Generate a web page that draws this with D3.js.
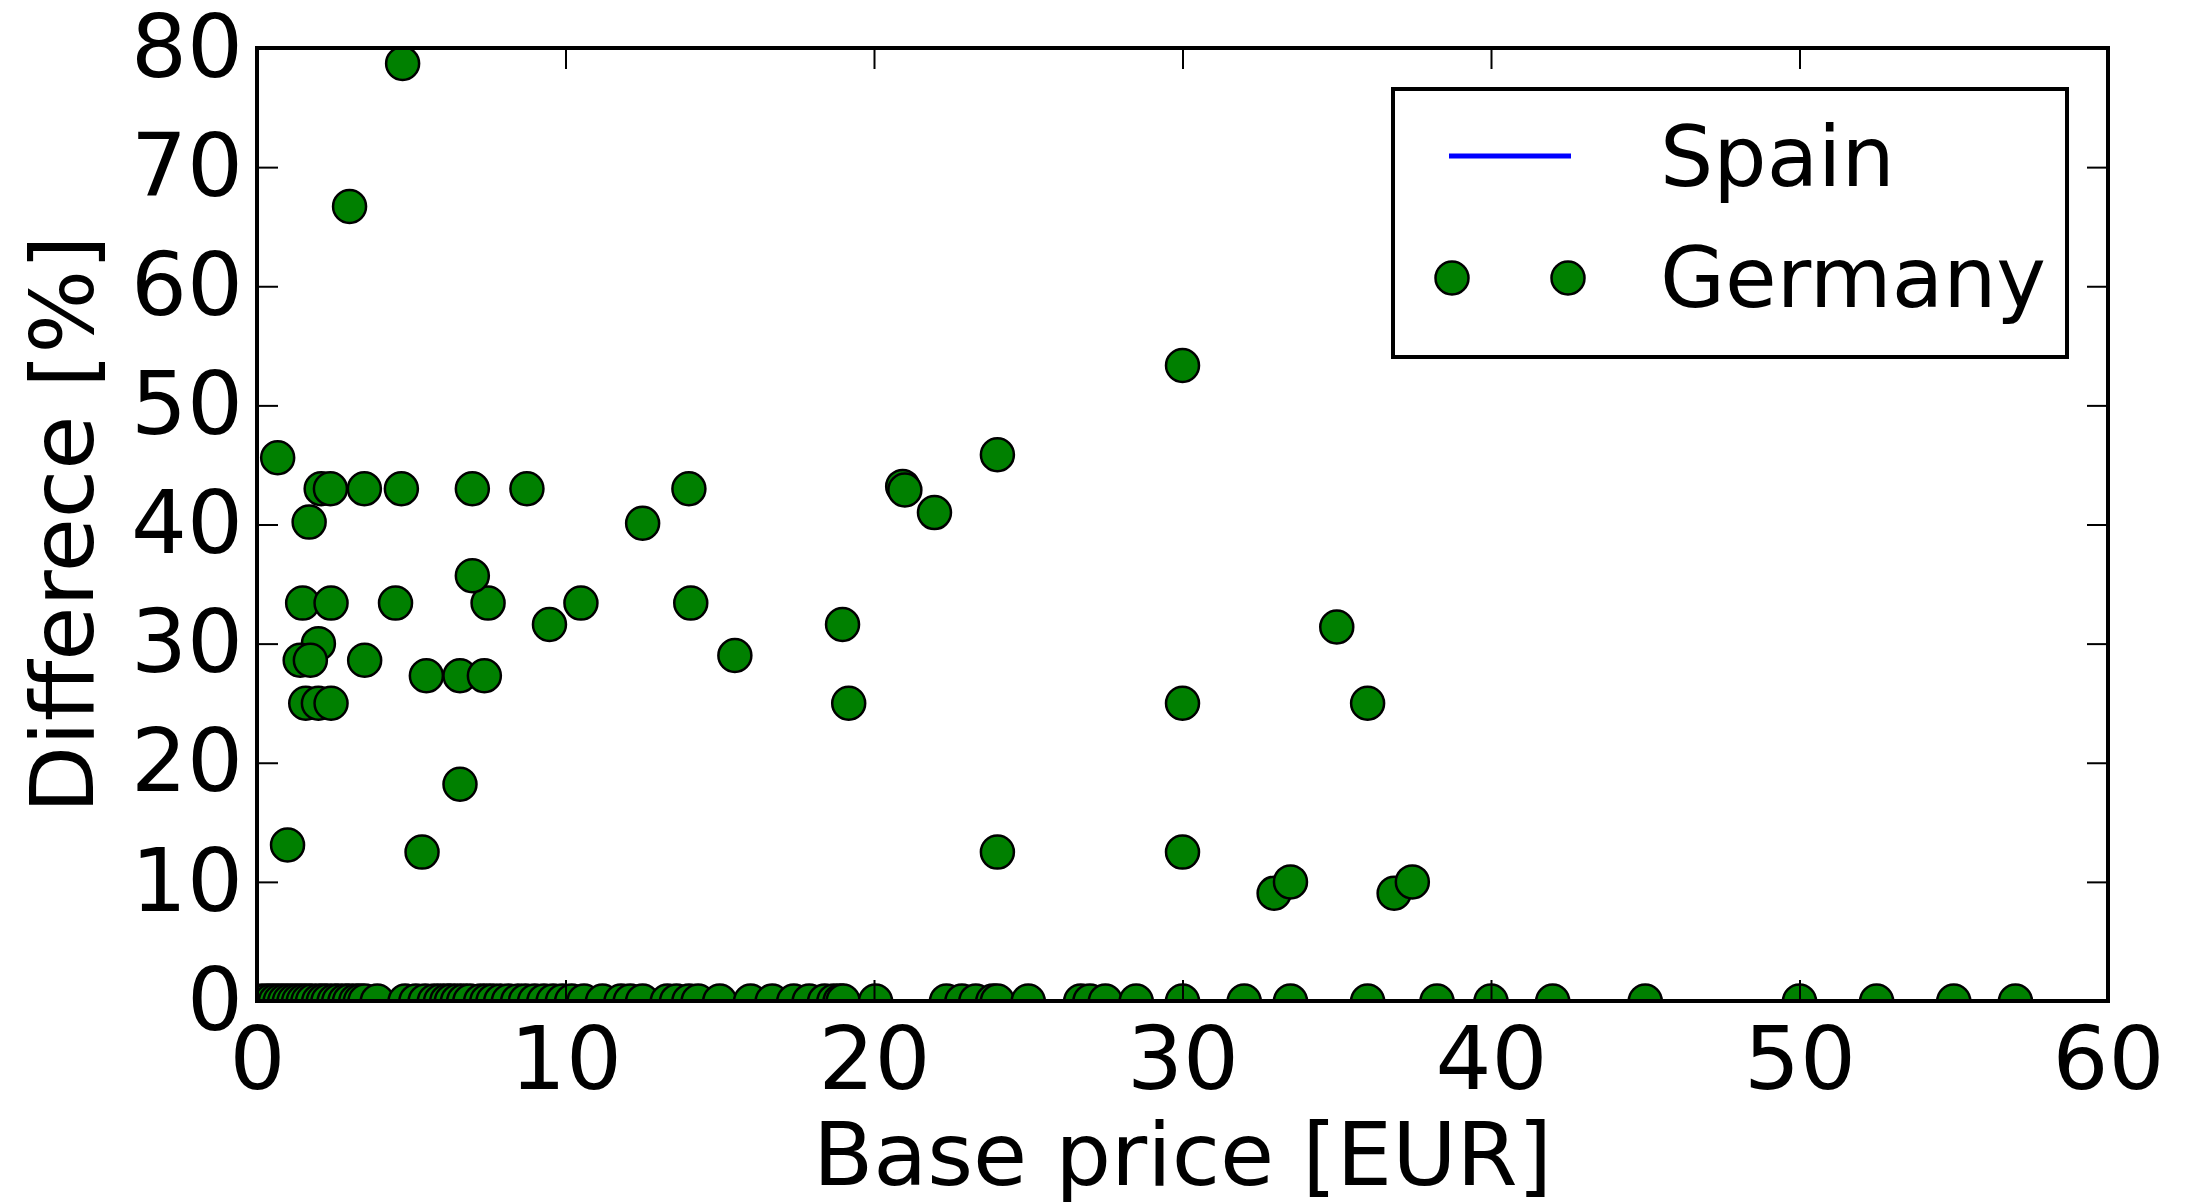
<!DOCTYPE html>
<html lang="en">
<head>
<meta charset="UTF-8">
<title>Base price vs difference</title>
<script src="https://d3js.org/d3.v7.min.js"></script>
<style>
  body { margin: 0; background: #fff; }
  text { font-family: 'DejaVu Sans', sans-serif; fill: #000; }
  .axis text { font-size: 88px; }
  .axis path { display: none; }
  .axis line { stroke: #000; stroke-width: 2px; }
  .label { font-size: 88px; }
  .legend text { font-size: 84px; }
  .dot { fill: #008000; stroke: #000; stroke-width: 2.5px; }
</style>
</head>
<body>
<script>

var window_width = 2187;
var window_height = 1202;

// plot frame in pixels
var frame = { left: 257, right: 2108, top: 48, bottom: 1001 };

var xTicks = [0, 10, 20, 30, 40, 50, 60];
var yTicks = [0, 10, 20, 30, 40, 50, 60, 70, 80];

var legendNames = ["Spain", "Germany"];

// Germany, products with a price difference
var germanyPrice = [4.72, 3.0, 0.67, 2.08, 2.38, 3.48, 4.68, 6.98, 8.75, 14.0,
  20.93, 21.0, 21.96, 1.69, 12.5, 1.48, 2.4, 4.49, 7.49, 10.5,
  14.06, 6.98, 9.48, 18.98, 1.99, 1.40, 1.73, 3.49, 15.49, 5.49,
  6.58, 7.37, 1.58, 1.99, 2.40, 19.18, 6.58, 0.99, 5.35, 30.0,
  24.0, 35.0, 30.0, 36.0, 24.0, 30.0, 32.97, 33.5, 36.86, 37.45];
var germanyDiff = [78.7, 66.7, 45.6, 43.0, 43.0, 43.0, 43.0, 43.0, 43.0, 43.0,
  43.2, 42.9, 41.0, 40.2, 40.1, 33.4, 33.4, 33.4, 33.4, 33.4,
  33.4, 35.7, 31.6, 31.6, 30.0, 28.6, 28.6, 28.6, 29.0, 27.3,
  27.3, 27.3, 25.0, 25.0, 25.0, 25.0, 18.2, 13.1, 12.5, 53.35,
  45.86, 31.4, 25.0, 25.0, 12.5, 12.5, 9.05, 10.0, 9.05, 10.0];

// Germany, products with no difference (0 %)
var zeroPrice = [0.15, 0.3, 0.45, 0.6, 0.75, 0.9, 1.05, 1.2, 1.35, 1.5,
  1.65, 1.8, 2.0, 2.15, 2.3, 2.5, 2.65, 2.85, 3.0, 3.2,
  3.35, 3.5, 3.9, 4.8, 5.15, 5.45, 5.75, 5.95, 6.15, 6.3,
  6.5, 6.7, 6.9, 7.25, 7.45, 7.65, 7.9, 8.15, 8.45, 8.7,
  9.0, 9.3, 9.6, 9.9, 10.2, 10.6, 11.2, 11.8, 12.1, 12.5,
  13.3, 13.6, 14.0, 14.3, 15.0, 16.0, 16.7, 17.4, 17.9, 18.4,
  18.7, 18.9, 19.0, 20.05, 22.35, 22.85, 23.3, 23.85, 24.0, 25.0,
  26.7, 27.0, 27.5, 28.5, 30.0, 32.0, 33.5, 36.0, 38.25, 40.0,
  42.0, 45.0, 50.0, 52.5, 55.0, 57.0];
var zeroDiff = 0;

var svg = d3.select("body").append("svg").attr("width", window_width).attr("height", window_height);

var xScale = d3.scaleLinear().domain([0, 60]).range([frame.left, frame.right]);
var yScale = d3.scaleLinear().domain([0, 80]).range([frame.bottom, frame.top]);

svg.append("clipPath").attr("id", "plotclip")
   .append("rect").attr("x", frame.left).attr("y", frame.top)
   .attr("width", frame.right - frame.left).attr("height", frame.bottom - frame.top);

var points = [];
zeroPrice.forEach(function(p) { points.push({x: p, y: zeroDiff}); });
germanyPrice.forEach(function(p, i) { points.push({x: p, y: germanyDiff[i]}); });

svg.append("g").attr("clip-path", "url(#plotclip)")
   .selectAll("circle").data(points).enter().append("circle")
   .attr("class", "dot").attr("r", 16.5)
   .attr("cx", function(d) { return xScale(d.x); })
   .attr("cy", function(d) { return yScale(d.y); });

// axes with inward ticks on all four sides
var tick = 21;
svg.append("g").attr("class", "axis").attr("transform", "translate(0," + frame.bottom + ")")
   .call(d3.axisBottom(xScale).tickValues(xTicks).tickSizeInner(-tick).tickSizeOuter(0).tickPadding(26));
svg.append("g").attr("class", "axis").attr("transform", "translate(0," + frame.top + ")")
   .call(d3.axisTop(xScale).tickValues(xTicks).tickSizeInner(-tick).tickSizeOuter(0).tickFormat(""));
svg.append("g").attr("class", "axis").attr("transform", "translate(" + frame.left + ",0)")
   .call(d3.axisLeft(yScale).tickValues(yTicks).tickSizeInner(-tick).tickSizeOuter(0).tickPadding(14));
svg.append("g").attr("class", "axis").attr("transform", "translate(" + frame.right + ",0)")
   .call(d3.axisRight(yScale).tickValues(yTicks).tickSizeInner(-tick).tickSizeOuter(0).tickFormat(""));

svg.append("rect").attr("x", frame.left).attr("y", frame.top)
   .attr("width", frame.right - frame.left).attr("height", frame.bottom - frame.top)
   .style("fill", "none").style("stroke", "#000").style("stroke-width", 4);

svg.append("text").attr("class", "label").attr("x", (frame.left + frame.right) / 2).attr("y", 1185)
   .attr("text-anchor", "middle").text("Base price [EUR]");
svg.append("text").attr("class", "label")
   .attr("transform", "translate(93," + (frame.top + frame.bottom) / 2 + ") rotate(-90)")
   .attr("text-anchor", "middle").text("Differece [%]");

// legend
var lg = svg.append("g").attr("class", "legend");
lg.append("rect").attr("x", 1393).attr("y", 89).attr("width", 674).attr("height", 268)
  .style("fill", "#fff").style("stroke", "#000").style("stroke-width", 4);
lg.append("line").attr("x1", 1449).attr("x2", 1571).attr("y1", 156).attr("y2", 156)
  .style("stroke", "#0000ff").style("stroke-width", 5);
lg.selectAll("circle").data([1452, 1568]).enter().append("circle")
  .attr("class", "dot").attr("r", 16.5).attr("cx", function(d) { return d; }).attr("cy", 278);
lg.selectAll("text").data(legendNames).enter().append("text")
  .attr("x", 1660).attr("y", function(d, i) { return 186 + i * 121; })
  .text(function(d) { return d; });

</script>
</body>
</html>
